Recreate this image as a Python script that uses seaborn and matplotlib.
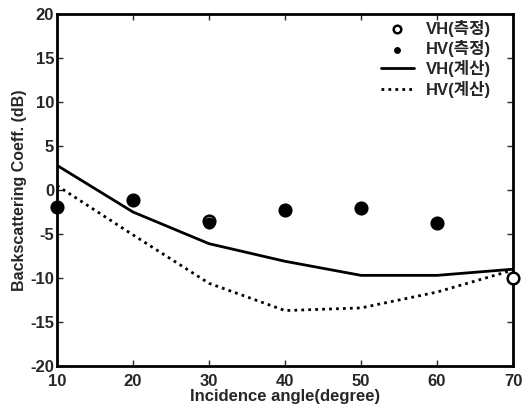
import matplotlib
matplotlib.use("Agg")
import matplotlib.pyplot as plt
import seaborn as sns
import pandas as pd

angles = [10, 20, 30, 40, 50, 60, 70]
vh_meas = [-1.9, -1.1, -3.5, -2.3, -2.1, -3.8, -10.0]
hv_angles = [10, 20, 30, 40, 50, 60]
hv_meas = [-1.9, -1.1, -3.7, -2.3, -2.1, -3.8]
vh_calc = [2.8, -2.5, -6.1, -8.1, -9.7, -9.7, -9.0]
hv_calc = [0.5, -5.1, -10.6, -13.7, -13.4, -11.6, -9.1]

labels = ["VH(측정)", "HV(측정)", "VH(계산)", "HV(계산)"]
xticks = [10, 20, 30, 40, 50, 60, 70]
yticks = [-20, -15, -10, -5, 0, 5, 10, 15, 20]

sns.set_theme(style="white")
plt.rcParams['font.family'] = ['Liberation Sans', 'Noto Sans CJK KR', 'DejaVu Sans']
plt.rcParams['font.weight'] = 'bold'
plt.rcParams['axes.unicode_minus'] = False

fig = plt.figure(figsize=(5.24, 4.11), dpi=100)
ax = fig.add_axes([57/524, 1 - 366/411, (513 - 57)/524, (366 - 14)/411])

df_vh = pd.DataFrame({"x": angles, "y": vh_meas})
df_hv = pd.DataFrame({"x": hv_angles, "y": hv_meas})
df_vhc = pd.DataFrame({"x": angles, "y": vh_calc})
df_hvc = pd.DataFrame({"x": angles, "y": hv_calc})

sns.scatterplot(data=df_vh, x="x", y="y", ax=ax, marker="o", s=70,
                facecolor="white", edgecolor="black", linewidth=1.8, label=labels[0], zorder=3,
                clip_on=False)
sns.scatterplot(data=df_hv, x="x", y="y", ax=ax, marker="o", s=65,
                color="black", edgecolor="black", label=labels[1], zorder=4, clip_on=False)
sns.lineplot(data=df_vhc, x="x", y="y", ax=ax, color="black", linewidth=2.0,
             label=labels[2], zorder=2)
sns.lineplot(data=df_hvc, x="x", y="y", ax=ax, color="black", linewidth=2.0,
             linestyle=(0, (1, 1.5)), label=labels[3], zorder=2)

ax.set_xlim(10, 70)
ax.set_ylim(-20, 20)
ax.set_xticks(xticks)
ax.set_yticks(yticks)
ax.tick_params(axis="both", direction="in", length=4, width=1, labelsize=12,
               top=True, right=True, bottom=True, left=True)
ax.tick_params(axis="x", pad=6)
ax.tick_params(axis="y", pad=2)
for lab in ax.get_xticklabels() + ax.get_yticklabels():
    lab.set_fontweight("bold")
for sp in ax.spines.values():
    sp.set_linewidth(2.0)
    sp.set_color("black")
ax.set_xlabel("Incidence angle(degree)", fontsize=12, fontweight="bold", labelpad=0)
ax.set_ylabel("Backscattering Coeff. (dB)", fontsize=11.5, fontweight="bold", labelpad=2)

handles, labs = ax.get_legend_handles_labels()
leg = ax.legend(handles, labs, loc="upper right", frameon=False, fontsize=12,
                handlelength=2.0, borderaxespad=0.25, labelspacing=0.2, handletextpad=0.7,
                bbox_to_anchor=(0.975, 1.015))
for t in leg.get_texts():
    t.set_fontweight("bold")
lh = leg.legend_handles
lh[0].set_sizes([30])
lh[1].set_sizes([18])

fig.savefig("out.png", dpi=100)
